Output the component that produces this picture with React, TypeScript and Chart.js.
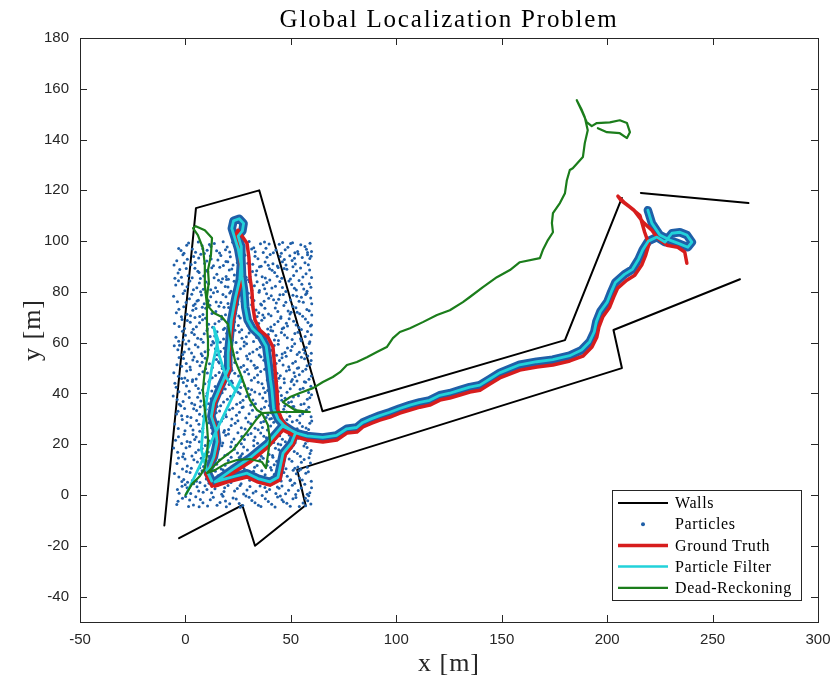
import { useEffect, useRef } from "react";
import { Chart, registerables } from "chart.js";

Chart.register(...registerables);

type Pt = [number, number];

const X_TICKS = [-50, 0, 50, 100, 150, 200, 250, 300];
const Y_TICKS = [-40, -20, 0, 20, 40, 60, 80, 100, 120, 140, 160, 180];

// Map walls (m)
const wallOuter: Pt[] = [[-10, -12], [5, 113], [35, 120], [65, 33], [180, 61], [207, 117]];
const wallEnd: Pt[] = [[216, 119], [267, 115]];
const wallInner: Pt[] = [[-3, -17], [27, -4], [33, -20], [57, -4], [53, 10], [207, 50], [203, 65], [263, 85]];

// Initial particle set spread over the first room
const particles: Pt[] = [
  [-3.2,97.1],[1.5,99.3],[4.8,95.6],[7.9,98.2],[10.3,96.4],[13.7,99.1],[16.2,95.3],[19.8,97.7],[22.4,99.6],[26.9,96.0],[29.3,98.5],[33.1,95.8],[35.6,99.0],[38.2,97.2],[41.7,95.4],[44.5,98.8],[47.3,96.6],[50.8,99.4],[53.2,95.9],[56.7,97.9],[59.1,99.2],[-0.7,95.2],[12.1,97.9],[31.4,96.9],[46.1,99.5],[57.9,95.5],
  [-4.1,92.3],[-1.2,94.6],[2.7,90.8],[6.3,93.4],[9.1,91.2],[11.8,94.1],[15.4,92.6],[18.0,90.4],[21.3,93.8],[24.6,91.5],[28.2,94.4],[31.9,90.9],[34.4,93.1],[37.8,91.8],[40.2,94.7],[43.6,90.2],[46.9,92.8],[49.5,94.2],[52.1,91.0],[55.4,93.6],[58.3,90.7],[3.9,93.9],[20.1,91.9],[39.3,90.5],[51.7,93.3],[59.6,94.0],
  [-3.5,87.4],[0.4,89.2],[3.2,85.6],[5.9,88.1],[8.7,86.3],[12.5,89.5],[14.9,87.0],[17.6,85.2],[20.8,88.6],[23.2,86.7],[27.5,89.8],[30.7,85.9],[33.8,88.3],[36.4,86.0],[39.9,89.1],[42.3,87.6],[45.7,85.4],[48.1,88.9],[51.3,86.5],[54.6,89.4],[57.2,87.2],[-1.9,85.8],[10.6,87.9],[25.3,85.1],[44.0,89.6],[59.8,85.7],
  [-4.6,82.7],[-0.3,80.5],[2.1,84.3],[5.4,81.6],[9.8,83.9],[12.0,80.9],[15.7,84.6],[18.9,82.1],[21.6,80.3],[24.1,83.4],[26.6,81.2],[29.9,84.8],[32.7,82.4],[35.1,80.6],[38.6,83.7],[41.0,81.5],[44.8,84.1],[47.6,80.2],[50.4,82.9],[53.9,84.5],[56.1,81.1],[58.8,83.2],[7.2,80.1],[19.5,84.9],[36.9,82.8],[52.6,80.8],
  [-3.8,76.1],[-1.1,79.4],[1.9,77.3],[4.6,75.2],[7.6,78.8],[10.9,76.5],[13.3,79.7],[16.8,75.8],[19.2,78.1],[22.7,76.9],[25.8,79.2],[28.6,75.4],[31.2,77.8],[34.9,79.9],[37.3,76.3],[40.7,78.5],[43.1,75.6],[46.4,79.0],[49.8,76.8],[52.8,78.3],[55.9,75.9],[59.4,77.6],[6.1,76.7],[21.0,79.6],[44.2,77.1],[57.5,79.5],
  [-4.3,71.8],[-0.8,74.2],[2.4,70.6],[5.0,73.5],[8.3,71.1],[11.6,74.7],[14.4,72.3],[17.1,70.4],[20.5,73.9],[23.8,71.6],[27.0,74.5],[30.1,70.8],[33.5,72.9],[36.1,74.8],[39.4,71.3],[42.6,73.7],[45.3,70.2],[48.7,72.5],[51.0,74.3],[54.2,71.4],[57.6,73.1],[59.9,70.9],[3.5,72.8],[18.3,74.0],[34.0,70.3],[50.1,72.0],
  [-3.0,66.4],[0.9,68.7],[3.7,65.3],[6.7,67.9],[9.5,69.6],[12.9,66.1],[15.9,68.4],[18.6,65.7],[21.9,69.2],[25.1,66.8],[28.4,68.9],[31.6,65.4],[34.7,67.6],[37.4,69.8],[40.5,66.2],[43.9,68.3],[46.6,65.9],[49.2,69.4],[52.5,67.0],[55.0,65.2],[58.1,68.0],[-1.6,69.1],[11.0,67.3],[26.7,65.1],[47.9,67.7],[59.3,66.6],
  [-4.5,62.1],[-1.4,64.5],[1.6,60.7],[4.2,63.2],[7.4,61.4],[10.2,64.8],[13.9,62.6],[16.5,60.2],[19.6,63.7],[22.2,61.0],[25.6,64.2],[28.9,62.3],[32.3,60.5],[35.5,63.9],[38.0,61.7],[41.4,64.6],[44.1,60.9],[47.0,63.0],[50.6,61.3],[53.4,64.1],[56.8,62.4],[59.0,60.4],[8.9,63.5],[24.0,60.1],[42.9,62.8],[54.9,60.8],
  [-3.6,57.2],[0.2,59.5],[2.9,55.9],[6.0,58.3],[9.3,56.4],[12.3,59.1],[15.1,55.3],[18.4,57.8],[21.2,59.8],[24.5,56.1],[27.8,58.7],[30.4,55.6],[33.9,57.4],[36.8,59.3],[39.6,56.7],[42.1,58.9],[45.9,55.5],[48.4,57.9],[51.8,59.6],[54.0,56.2],[57.3,58.1],[59.7,55.8],[-0.5,56.3],[14.2,57.6],[35.0,55.2],[50.0,56.9],
  [-4.0,51.3],[-0.9,53.8],[2.2,50.4],[5.6,52.6],[8.0,54.9],[11.4,51.7],[14.7,53.4],[17.3,50.8],[20.0,54.1],[23.4,52.2],[26.3,50.3],[29.5,53.6],[32.6,51.1],[35.8,54.5],[38.9,52.9],[41.2,50.6],[44.6,53.0],[47.8,54.7],[50.9,51.9],[53.7,50.1],[56.5,53.7],[59.2,51.5],[4.1,54.4],[16.1,52.0],[46.3,51.2],[58.0,54.8],
  [-3.3,46.8],[0.6,48.9],[3.4,45.4],[6.5,47.6],[9.6,49.7],[12.7,46.2],[16.0,48.3],[18.8,45.7],[22.0,49.1],[25.2,46.9],[28.1,48.6],[31.3,45.2],[34.2,47.3],[37.6,49.5],[40.1,46.4],[43.4,48.0],[46.8,45.8],[49.3,49.3],[52.0,46.7],[55.6,48.8],[58.6,45.6],[-1.8,45.9],[10.4,48.1],[30.0,47.7],[44.3,46.0],[53.1,49.9],
  [-4.4,42.5],[-1.0,44.3],[1.8,40.9],[4.9,43.1],[8.1,41.4],[11.1,44.6],[14.1,42.7],[17.4,40.3],[20.7,43.5],[23.6,41.6],[26.8,44.8],[29.7,42.0],[32.9,40.6],[36.3,43.8],[39.0,41.2],[42.0,44.0],[45.1,42.3],[48.2,40.5],[51.5,43.4],[54.4,41.7],[57.0,44.4],[59.5,42.8],[6.8,40.2],[21.8,44.9],[37.0,42.2],[50.2,44.7],
  [-3.9,37.6],[0.0,39.8],[3.0,36.2],[5.8,38.5],[8.8,35.4],[12.2,37.9],[15.3,39.4],[18.1,36.6],[21.4,38.9],[24.3,35.8],[27.3,37.3],[30.6,39.6],[33.2,36.0],[36.7,38.2],[39.8,35.3],[42.8,37.5],[45.5,39.2],[48.9,36.4],[51.2,38.6],[54.8,35.7],[57.8,37.7],[59.8,39.5],[-2.2,35.2],[10.0,39.0],[25.9,39.9],[47.1,35.1],
  [-4.2,31.9],[-0.4,34.1],[2.6,30.5],[5.3,33.3],[8.5,31.0],[11.7,34.4],[14.6,32.4],[17.8,30.2],[20.9,33.6],[24.2,31.4],[27.4,34.7],[30.2,32.0],[33.6,30.7],[36.0,33.9],[39.1,31.6],[42.4,34.3],[45.0,30.4],[48.0,32.7],[51.4,34.9],[54.3,31.2],[57.4,33.5],[59.6,30.8],[7.0,34.8],[19.0,31.8],[40.8,30.1],[52.7,33.0],
  [-3.4,26.2],[0.7,28.5],[3.6,25.6],[6.4,27.9],[9.7,29.6],[12.4,26.5],[15.6,28.8],[18.5,25.4],[21.7,27.4],[24.9,29.3],[28.3,26.0],[31.0,28.1],[34.5,25.7],[37.1,29.0],[40.4,27.2],[43.2,25.3],[46.7,28.4],[49.6,26.3],[52.9,29.5],[55.5,27.0],[58.4,25.8],[-1.5,29.8],[13.5,25.1],[36.5,26.6],[50.7,28.9],[59.9,29.2],
  [-4.7,21.6],[-0.6,23.9],[2.3,20.8],[5.1,22.9],[8.2,24.6],[11.3,21.3],[14.3,23.2],[17.7,20.5],[20.4,24.0],[23.0,22.1],[26.5,20.2],[29.6,23.7],[32.4,21.5],[35.7,24.4],[38.4,22.6],[41.9,20.7],[44.7,23.4],[47.4,21.0],[50.3,24.8],[53.6,22.4],[56.9,20.3],[59.4,23.8],[4.4,21.9],[18.2,24.7],[33.0,22.9],[55.2,24.3],
  [-3.7,16.9],[0.3,18.6],[3.1,15.4],[6.2,17.7],[9.4,19.5],[12.6,16.2],[15.8,18.2],[18.7,15.6],[21.5,19.0],[24.7,16.6],[27.6,18.9],[30.8,15.2],[33.7,17.4],[36.6,19.7],[39.7,16.0],[42.7,18.4],[45.6,15.8],[48.6,19.2],[51.6,17.1],[54.5,15.3],[57.7,18.7],[59.1,16.4],[-1.3,15.1],[10.8,17.0],[27.0,16.3],[45.2,19.8],
  [-4.0,12.4],[-0.2,14.2],[2.8,10.6],[5.7,13.0],[8.6,11.2],[11.5,14.7],[14.8,12.1],[17.0,10.3],[20.3,13.6],[23.5,11.5],[26.2,14.4],[29.4,12.7],[32.8,10.9],[35.3,13.8],[38.7,11.7],[41.5,14.9],[44.9,12.2],[47.7,10.4],[50.5,13.3],[53.3,11.0],[56.3,14.0],[59.3,12.6],[7.5,14.5],[22.1,10.1],[39.2,13.2],[54.7,10.2],
  [-3.1,7.1],[0.5,9.3],[3.3,5.7],[6.6,8.4],[9.9,6.3],[12.8,9.7],[15.5,7.6],[18.3,5.2],[21.1,8.8],[24.4,6.5],[27.9,9.0],[30.5,5.8],[33.4,7.9],[36.2,9.6],[39.5,6.1],[42.2,8.2],[45.4,5.5],[48.3,7.4],[51.1,9.8],[54.1,6.7],[57.1,8.6],[59.7,5.4],[-1.7,5.3],[11.9,7.8],[30.0,8.1],[49.9,6.0],
  [-3.8,2.2],[-0.1,4.1],[2.5,0.6],[5.5,3.3],[8.4,1.1],[11.2,4.6],[14.0,2.5],[17.2,0.3],[20.2,3.8],[23.3,1.6],[26.4,4.4],[29.2,2.0],[32.1,0.8],[35.4,3.6],[38.5,1.3],[41.8,4.8],[44.4,2.7],[47.5,0.5],[50.7,3.9],[53.5,1.8],[56.6,4.3],[59.0,0.9],[6.9,4.9],[18.6,2.9],[37.7,3.0],[52.3,0.2],
  [-3.5,-2.4],[0.1,-0.6],[3.8,-3.9],[7.1,-1.8],[10.5,-4.3],[13.2,-0.9],[16.4,-2.9],[19.4,-4.6],[22.6,-1.2],[25.5,-3.3],[28.7,-0.4],[31.5,-2.1],[34.6,-4.0],[37.9,-1.5],[40.9,-3.6],[43.7,-0.8],[46.5,-2.6],[49.7,-4.4],[52.4,-1.0],[55.8,-3.1],[58.5,-0.3],[2.0,-2.0],[26.0,-4.8],[45.8,-1.9],[57.0,-4.2],
  [-2.1,96.3],[0.6,98.4],[3.3,96.9],[6.1,99.7],[9.0,95.1],[11.4,98.7],[14.8,96.2],[17.9,99.8],[21.0,95.7],[24.3,98.1],[27.7,95.0],[30.2,99.9],[32.4,97.4],[36.9,95.5],[39.7,98.9],[42.9,96.5],[45.5,95.2],[48.6,97.6],[51.9,95.4],[54.7,98.6],[57.4,96.8],[59.8,95.9],[8.2,97.0],[19.0,96.6],[37.5,99.7],[49.9,99.1],
  [-5.4,90.6],[0.9,92.9],[4.6,91.6],[7.3,94.8],[10.1,92.2],[13.3,90.3],[16.8,94.3],[19.2,92.0],[22.6,90.6],[25.9,93.5],[29.6,91.3],[33.0,94.0],[35.9,90.1],[38.7,93.7],[41.5,91.1],[44.9,93.9],[47.7,90.6],[50.6,92.4],[53.5,94.9],[56.7,91.5],[59.0,93.2],[-0.6,91.4],[12.2,93.0],[27.0,90.2],[46.0,91.9],[57.9,94.6],
  [-2.7,88.8],[1.3,86.4],[4.5,89.3],[7.1,85.3],[10.0,88.4],[13.6,85.6],[16.3,89.7],[19.3,86.1],[22.0,89.0],[25.0,87.5],[28.8,85.8],[31.8,88.0],[35.1,89.9],[37.9,85.5],[41.1,88.5],[43.5,86.2],[46.8,89.2],[49.8,85.1],[52.7,88.2],[55.7,85.9],[58.9,88.6],[-5.0,85.4],[6.5,87.6],[20.4,85.0],[33.4,86.7],[51.0,89.9],
  [-3.3,84.4],[0.8,82.0],[3.8,80.9],[6.6,83.5],[8.5,81.0],[11.0,83.2],[14.3,81.6],[17.0,83.8],[20.2,81.9],[23.1,84.2],[25.5,80.4],[28.4,82.7],[31.5,80.7],[34.0,84.0],[37.6,81.2],[40.0,84.7],[42.7,82.2],[46.0,81.7],[49.1,84.3],[51.7,81.4],[55.2,83.0],[57.7,80.3],[-1.5,83.1],[15.2,80.2],[30.3,84.0],[59.5,81.8],
  [-5.6,78.3],[0.3,75.8],[3.0,79.1],[5.5,76.4],[8.9,75.3],[12.0,78.1],[14.6,76.0],[17.8,79.0],[20.2,75.4],[23.7,78.6],[26.9,76.2],[29.8,79.5],[32.5,76.6],[35.7,75.2],[38.5,79.3],[41.8,76.9],[44.8,78.9],[47.6,75.9],[51.0,78.7],[53.9,76.3],[57.0,79.0],[59.9,75.3],[9.8,79.8],[24.8,75.1],[39.5,77.5],[55.0,77.9],
  [-3.1,73.2],[0.7,71.2],[3.8,74.6],[6.8,70.3],[9.6,73.6],[12.6,71.5],[15.9,74.4],[19.0,71.0],[21.8,72.8],[25.3,70.5],[28.1,73.1],[31.4,74.9],[34.8,71.8],[37.7,73.6],[40.6,70.6],[43.8,72.3],[46.7,74.6],[49.6,71.3],[52.4,73.8],[55.6,70.4],[58.7,72.6],[-1.9,70.2],[8.0,74.0],[22.9,74.5],[36.7,70.9],[53.0,72.0],
  [-5.2,67.6],[-0.4,65.6],[2.3,68.1],[5.2,66.3],[8.1,69.0],[10.4,65.5],[14.0,67.5],[17.2,69.3],[20.3,66.5],[23.3,68.2],[26.0,69.7],[29.6,66.7],[33.1,65.9],[36.2,68.8],[39.0,65.4],[42.2,67.2],[45.2,69.6],[48.4,66.6],[51.3,68.4],[53.8,66.0],[56.9,69.3],[59.8,67.0],[4.5,69.9],[18.0,65.2],[30.9,68.9],[45.9,65.5],
  [-3.2,60.6],[0.0,62.9],[3.0,64.0],[5.8,61.8],[8.4,60.2],[11.7,62.4],[15.0,64.3],[18.1,61.5],[21.0,63.0],[23.5,64.9],[26.8,61.8],[30.2,63.8],[33.8,62.0],[36.6,60.9],[39.3,63.2],[42.2,61.1],[45.5,64.0],[48.3,61.9],[51.9,63.6],[54.6,61.6],[57.9,64.4],[-1.0,61.2],[13.0,60.5],[27.9,60.3],[40.5,64.8],[59.7,63.1],
  [-5.3,58.8],[-1.3,55.4],[1.7,57.5],[4.7,59.2],[7.5,55.6],[10.8,57.2],[13.4,59.9],[16.6,56.5],[19.7,58.4],[22.8,55.2],[26.1,57.6],[29.0,59.6],[32.0,56.3],[35.4,58.2],[38.1,55.8],[41.0,57.0],[44.0,59.4],[47.2,56.1],[50.6,58.5],[53.0,55.4],[55.9,57.3],[58.7,59.7],[-2.8,59.0],[20.9,56.9],[43.2,55.1],[56.6,55.9],
  [-3.0,54.2],[0.4,51.8],[3.5,53.2],[6.9,50.9],[9.4,53.9],[12.8,50.2],[15.7,52.5],[18.6,54.6],[21.6,51.3],[24.9,53.7],[27.6,51.0],[31.1,52.8],[34.1,50.2],[37.2,53.1],[40.0,54.9],[43.0,51.8],[45.8,54.1],[49.0,50.5],[52.2,52.6],[55.0,54.3],[57.7,50.9],[-1.8,50.7],[7.9,52.3],[29.0,54.8],[39.5,51.4],[59.6,53.0],
  [-5.5,48.2],[-0.3,46.1],[2.4,49.3],[5.1,45.7],[8.3,48.6],[11.6,45.4],[14.3,47.1],[17.5,49.8],[20.3,46.4],[23.4,48.0],[26.6,45.6],[29.3,49.4],[32.7,46.2],[35.7,48.7],[38.8,45.3],[41.7,49.2],[45.0,47.0],[47.9,48.9],[50.7,45.5],[54.0,47.4],[57.1,49.5],[59.7,46.9],[1.0,45.1],[18.0,47.9],[33.3,49.9],[51.5,48.2],
  [-3.1,40.7],[0.5,42.9],[3.3,44.7],[6.1,42.0],[9.2,43.8],[12.5,41.0],[15.8,43.4],[18.9,41.8],[22.3,44.1],[25.0,40.5],[28.0,43.0],[31.4,41.5],[34.5,44.4],[37.8,40.4],[40.8,42.6],[44.0,40.8],[46.9,44.2],[49.7,41.9],[52.9,44.9],[55.8,42.1],[58.4,40.4],[-5.0,44.0],[10.3,40.1],[26.2,42.4],[43.3,44.8],[56.4,44.6],
  [-5.8,39.0],[-1.1,36.8],[1.8,38.4],[4.4,35.6],[7.3,37.0],[10.9,36.0],[13.7,38.6],[16.7,35.2],[19.9,37.7],[22.8,39.4],[26.0,36.4],[28.9,38.8],[32.0,37.4],[35.2,39.8],[38.2,36.9],[41.3,39.0],[44.1,35.9],[47.3,38.1],[50.3,36.7],[53.6,39.1],[56.3,36.0],[59.0,38.3],[-2.9,35.8],[12.0,35.3],[31.0,35.5],[45.7,37.3],
  [-3.5,33.0],[0.9,30.9],[3.9,34.0],[6.7,31.8],[9.8,33.8],[12.9,30.5],[16.2,33.1],[19.4,30.8],[22.4,34.2],[25.6,32.6],[28.6,30.3],[31.8,33.4],[34.9,31.3],[37.5,34.6],[40.6,32.4],[43.6,30.9],[46.6,33.8],[49.5,31.0],[52.1,33.6],[55.6,32.0],[58.5,34.6],[-1.8,31.2],[15.0,34.9],[26.9,34.5],[38.3,30.5],[50.8,34.8],
  [-5.1,28.0],[-0.2,25.3],[2.5,27.3],[5.3,29.4],[8.2,26.2],[11.1,28.5],[14.4,26.9],[17.1,29.2],[20.5,25.8],[23.6,28.3],[26.5,26.5],[29.8,28.8],[33.0,26.3],[35.8,28.6],[38.9,25.6],[41.9,28.7],[45.0,26.9],[48.1,29.7],[51.3,25.4],[54.2,28.4],[57.2,26.4],[59.0,28.3],[6.8,25.1],[22.0,29.9],[40.0,29.9],[53.0,26.1],
  [-3.3,23.0],[0.8,21.1],[3.6,23.8],[6.6,21.0],[9.6,22.8],[12.7,24.2],[15.9,21.7],[19.1,23.5],[21.9,20.9],[24.9,24.5],[28.0,21.9],[31.1,24.2],[34.2,20.4],[37.2,23.2],[40.3,21.6],[43.3,24.9],[46.0,22.0],[49.2,23.6],[52.0,20.6],[55.0,23.0],[58.0,21.3],[-1.8,20.3],[10.9,20.2],[26.7,23.1],[44.0,20.1],[57.4,24.6],
  [-5.6,18.5],[-0.9,16.3],[2.0,19.2],[4.9,16.8],[7.9,18.3],[11.2,15.3],[14.1,17.4],[17.3,19.4],[20.0,16.1],[23.2,18.0],[26.3,15.5],[29.4,17.7],[32.4,19.4],[35.2,16.4],[38.4,18.7],[41.3,15.6],[44.3,17.8],[47.1,15.2],[50.1,18.5],[53.1,16.4],[56.2,19.3],[59.6,17.5],[8.8,15.9],[24.0,19.6],[36.0,15.3],[48.1,17.2],
  [-3.3,14.6],[0.9,11.4],[4.0,13.9],[6.8,10.7],[9.9,13.5],[13.1,11.0],[16.1,13.8],[18.8,11.7],[21.7,14.9],[24.8,12.6],[27.8,10.5],[30.8,13.8],[34.0,11.6],[36.9,14.5],[40.4,10.8],[43.3,13.3],[46.3,11.4],[49.2,14.2],[51.9,10.6],[55.0,12.9],[57.8,10.9],[-1.4,10.3],[12.0,13.2],[25.5,14.8],[42.1,11.9],[58.6,14.7],
  [-5.2,8.5],[-0.8,6.1],[2.2,8.9],[5.2,5.4],[7.9,9.6],[10.7,7.2],[14.2,9.4],[16.9,6.7],[19.8,8.1],[23.0,5.8],[26.0,8.4],[29.1,6.9],[32.3,9.4],[34.9,5.3],[37.8,8.0],[40.8,9.9],[43.8,6.6],[46.7,8.9],[49.6,5.7],[52.6,8.4],[55.4,5.9],[58.3,9.2],[1.0,5.0],[17.9,9.9],[38.9,5.0],[53.8,9.6],
  [-3.0,0.7],[0.8,2.9],[3.9,4.4],[6.3,1.6],[9.3,3.7],[12.4,0.9],[15.4,3.9],[18.3,1.4],[21.6,4.9],[24.6,2.6],[27.6,0.4],[30.6,3.4],[33.4,1.5],[36.7,4.7],[39.9,2.2],[42.9,0.6],[45.8,3.6],[48.9,1.9],[51.8,4.6],[54.9,2.8],[57.8,0.3],[-1.6,3.5],[10.2,2.2],[25.9,3.8],[43.6,3.2],[59.8,2.9],
  [-4.1,-3.7],[-1.4,-1.3],[1.5,-4.5],[4.9,-0.7],[8.3,-3.0],[11.8,-1.9],[15.0,-4.0],[17.8,-0.5],[21.0,-3.4],[24.1,-1.6],[27.2,-4.1],[30.2,-0.9],[33.0,-3.0],[36.4,-0.2],[39.3,-2.5],[42.5,-4.7],[45.0,-0.4],[48.1,-3.2],[51.0,-1.5],[54.0,-4.5],[56.9,-1.3],[59.5,-3.5],[6.5,-4.6],[19.0,-2.3],[35.8,-4.5],[58.0,-2.2],
];

// True robot path (m)
const groundTruth: Pt[] = [
  [12.6,3.5],[9.7,8.3],[14.0,15.0],[15.4,20.5],[14.9,25.6],[12.6,30.7],[14.0,36.2],[17.3,42.5],[21.1,49.2],[20.6,55.9],
  [22.5,68.9],[24.4,78.0],[26.8,84.6],[25.8,94.5],[23.9,102.4],[24.9,104.3],[29.2,99.2],[30.1,93.7],[30.6,85.8],[31.5,80.7],
  [32.0,74.0],[33.0,68.9],[35.3,65.0],[39.1,62.2],[41.5,58.3],[42.4,50.4],[42.9,45.3],[43.4,41.3],[43.9,33.5],[45.8,29.5],
  [48.1,26.8],[52.9,23.6],[51.0,19.7],[47.2,15.7],[45.8,10.6],[44.8,5.9],[40.1,3.9],[34.4,5.1],[29.2,7.1],[23.5,5.9],
  [19.7,5.1],[14.0,3.5],[22.5,8.7],[30.6,13.0],[39.1,18.9],[46.2,25.6],[52.9,22.8],[57.6,21.7],[65.2,20.9],[71.8,21.7],
  [76.6,24.4],[81.3,24.8],[84.2,26.8],[88.4,28.3],[92.2,29.5],[97.0,30.7],[101.7,32.3],[106.5,33.5],[111.2,34.6],[115.9,35.4],
  [120.7,37.4],[125.4,38.2],[130.2,39.4],[134.9,40.6],[139.7,41.3],[144.4,43.7],[149.1,46.1],[158.6,49.2],[166.7,50.4],[174.3,51.2],
  [182.3,52.8],[188.5,54.7],[192.8,58.3],[195.1,62.2],[196.1,66.1],[197.9,70.1],[201.2,74.0],[203.1,78.0],[205.0,81.5],[209.3,84.6],
  [213.1,86.6],[216.4,90.6],[218.3,94.5],[219.8,98.8],[217.8,103.5],[215.5,110.2],[210.8,113.4],[206.5,116.1],[205.1,117.7],[207.9,115.4],
  [212.7,112.2],[217.0,107.5],[221.2,104.3],[224.0,101.2],[228.3,98.4],[233.5,97.6],[236.8,95.7],[237.8,91.3],
];

// Filter estimate before the particle cloud converges (m)
const filterSearch: Pt[] = [
  [0.5,0.5],[26.8,46.5],[24.0,41.0],[19.5,46.0],[16.0,55.0],[13.5,66.0],[15.5,61.0],[12.5,50.0],[10.5,40.0],[8.5,28.0],
  [7.5,18.0],[10.0,10.0],[12.5,5.5],
];

// Filter estimate after convergence (m)
const filterTrack: Pt[] = [
  [12.5,5.5],[10.5,9.0],[13.5,15.0],[15.0,21.0],[14.3,26.0],[12.3,31.0],[13.5,36.5],[16.8,43.0],[20.5,50.0],[20.3,56.0],
  [21.8,69.0],[23.8,78.0],[25.8,85.0],[26.3,91.0],[25.0,97.0],[23.5,101.0],[22.0,105.0],[22.8,108.0],[25.5,108.8],[27.6,107.0],
  [27.0,104.0],[25.0,102.0],[26.4,98.0],[26.5,93.5],[26.9,86.0],[27.8,80.7],[28.4,74.0],[29.5,69.0],[31.8,65.6],[35.6,62.6],
  [38.3,58.6],[39.6,50.6],[40.3,45.4],[41.0,41.4],[41.8,34.0],[43.9,30.0],[46.6,27.5],[52.2,24.4],[50.3,20.5],[46.3,16.5],
  [44.9,11.0],[43.9,7.0],[40.1,5.2],[34.4,6.5],[29.2,8.6],[23.5,7.4],[19.7,6.6],[14.0,5.2],[22.4,10.1],[30.5,14.6],
  [39.0,20.4],[46.0,27.2],[52.8,24.4],[57.5,23.3],[65.1,22.7],[71.7,23.5],[76.5,26.1],[81.2,26.6],[84.1,28.6],[88.3,30.1],
  [92.1,31.3],[96.9,32.6],[101.6,34.1],[106.4,35.4],[111.1,36.5],[115.8,37.3],[120.6,39.3],[125.3,40.1],[130.1,41.3],[134.8,42.5],
  [139.6,43.3],[144.3,45.7],[149.0,48.1],[158.5,51.3],[166.6,52.5],[174.2,53.3],[182.2,54.9],[187.9,57.1],[191.7,60.4],[193.9,64.3],
  [194.9,68.3],[196.8,72.3],[200.1,76.1],[202.0,80.1],[203.9,83.7],[208.2,86.9],[212.0,88.9],[214.9,92.9],[216.9,96.6],[219.5,100.0],
  [223.6,101.6],[227.4,99.6],[230.7,103.1],[234.5,103.5],[237.8,102.4],[240.2,99.6],[238.3,97.6],[233.5,99.2],[229.7,100.4],[225.0,102.4],
  [221.2,107.1],[219.3,112.2],
];

// Odometry-only estimate (m)
const deadReckoning: Pt[] = [
  [0.0,0.0],[3.1,4.3],[6.9,7.5],[9.2,10.6],[10.2,15.7],[10.7,21.7],[10.2,27.6],[9.2,33.5],[8.3,41.3],[9.2,49.2],
  [10.7,55.1],[10.7,61.0],[10.2,66.9],[10.2,74.8],[9.2,82.7],[9.2,90.6],[8.3,97.2],[5.9,102.4],[3.6,105.1],[4.9,105.9],
  [9.2,104.3],[12.6,101.2],[12.1,94.5],[10.7,88.6],[11.1,83.9],[10.2,78.0],[11.1,74.0],[13.5,71.7],[17.3,70.1],[20.2,67.3],
  [21.1,63.0],[22.1,58.3],[23.5,53.1],[25.8,48.4],[27.7,44.1],[30.6,37.4],[33.9,33.5],[36.3,32.3],[39.1,27.6],[40.1,21.7],
  [39.1,15.7],[38.2,10.6],[36.3,13.0],[30.6,14.2],[24.4,13.8],[18.7,12.2],[14.0,9.8],[10.2,8.7],[16.4,13.8],[22.5,17.7],
  [29.2,24.8],[33.4,29.5],[36.3,32.3],[44.8,32.7],[59.0,32.7],[51.9,33.5],[46.2,36.6],[49.6,38.6],[54.3,40.2],[60.5,42.1],
  [65.2,44.5],[69.9,46.5],[73.3,48.4],[76.6,51.2],[81.3,52.4],[86.1,54.3],[90.8,56.3],[95.5,58.3],[98.4,61.8],[101.7,64.2],
  [106.5,65.7],[112.6,68.1],[119.3,70.9],[125.4,72.8],[131.6,76.0],[134.9,78.0],[141.1,81.9],[147.7,85.8],[153.9,88.6],[158.6,91.7],
  [168.1,93.3],[169.5,96.5],[171.9,100.4],[174.3,103.5],[173.8,107.1],[174.3,111.0],[177.6,115.0],[180.0,118.9],[180.9,124.0],[182.3,128.0],
  [183.7,128.7],[188.5,133.1],[189.4,138.6],[190.8,143.7],[189.4,148.8],[188.0,151.6],[185.6,155.5],[188.0,151.2],[190.3,146.9],[192.7,145.3],
  [195.1,146.5],[201.3,146.8],[206.0,147.6],[209.4,146.5],[210.8,142.9],[209.4,140.6],[206.0,142.5],[199.9,142.9],[195.6,144.5],
];

const COLORS = {
  wall: "#000000",
  particle: "#1f5fa8",
  truth: "#d71d1d",
  filter: "#22d2da",
  dead: "#1b7d1b",
  axis: "#262626",
};

const LEGEND = [
  { label: "Walls", kind: "line", color: COLORS.wall, width: 2 },
  { label: "Particles", kind: "dot", color: COLORS.particle, width: 2 },
  { label: "Ground Truth", kind: "line", color: COLORS.truth, width: 3.5 },
  { label: "Particle Filter", kind: "line", color: COLORS.filter, width: 2.5 },
  { label: "Dead-Reckoning", kind: "line", color: COLORS.dead, width: 2.2 },
];

const toXY = (pts: Pt[]) => pts.map(([x, y]) => ({ x, y }));

const lineSet = (label: string, pts: Pt[], color: string, width: number, order: number) => ({
  label,
  data: toXY(pts),
  showLine: true,
  borderColor: color,
  backgroundColor: color,
  borderWidth: width,
  pointRadius: 0,
  borderJoinStyle: "round" as const,
  borderCapStyle: "round" as const,
  tension: 0,
  order,
});

const figurePlugin = {
  id: "figureDecor",
  afterDatasetsDraw(chart: any) {
    const { ctx, chartArea: a, scales } = chart;
    const xs = scales.x;
    const ys = scales.y;
    ctx.save();
    ctx.strokeStyle = COLORS.axis;
    ctx.lineWidth = 1;
    const tl = 7;
    ctx.beginPath();
    X_TICKS.forEach((v) => {
      const px = Math.round(xs.getPixelForValue(v)) + 0.5;
      ctx.moveTo(px, a.bottom);
      ctx.lineTo(px, a.bottom - tl);
      ctx.moveTo(px, a.top);
      ctx.lineTo(px, a.top + tl);
    });
    Y_TICKS.forEach((v) => {
      const py = Math.round(ys.getPixelForValue(v)) + 0.5;
      ctx.moveTo(a.left, py);
      ctx.lineTo(a.left + tl, py);
      ctx.moveTo(a.right, py);
      ctx.lineTo(a.right - tl, py);
    });
    ctx.stroke();
    ctx.strokeRect(Math.round(a.left) + 0.5, Math.round(a.top) + 0.5, Math.round(a.right - a.left), Math.round(a.bottom - a.top));
    ctx.restore();
  },
  afterDraw(chart: any) {
    const { ctx, chartArea: a } = chart;
    const cx = (a.left + a.right) / 2;
    ctx.save();
    ctx.fillStyle = "#000";
    // title
    ctx.font = '25px "Liberation Serif"';
    (ctx as any).letterSpacing = "1.8px";
    ctx.textAlign = "center";
    ctx.textBaseline = "alphabetic";
    ctx.fillText("Global Localization Problem", cx, 27);
    // axis labels
    ctx.font = '26px "Liberation Serif"';
    (ctx as any).letterSpacing = "1px";
    ctx.fillStyle = COLORS.axis;
    ctx.fillText("x [m]", cx, 671);
    ctx.save();
    ctx.translate(40, (a.top + a.bottom) / 2);
    ctx.rotate(-Math.PI / 2);
    ctx.fillText("y [m]", 0, 0);
    ctx.restore();

    // legend box
    const bx = 612.5, by = 490.5, bw = 189, bh = 110;
    ctx.fillStyle = "#fff";
    ctx.fillRect(bx, by, bw, bh);
    ctx.strokeStyle = COLORS.axis;
    ctx.lineWidth = 1;
    ctx.strokeRect(bx, by, bw, bh);
    ctx.font = '16px "Liberation Serif"';
    (ctx as any).letterSpacing = "0.6px";
    ctx.textAlign = "left";
    ctx.textBaseline = "middle";
    LEGEND.forEach((item, i) => {
      const y = 503 + i * 21.2;
      if (item.kind === "line") {
        ctx.strokeStyle = item.color;
        ctx.lineWidth = item.width;
        ctx.beginPath();
        ctx.moveTo(618, y);
        ctx.lineTo(668, y);
        ctx.stroke();
      } else {
        ctx.fillStyle = item.color;
        ctx.beginPath();
        ctx.arc(643, y, 2, 0, Math.PI * 2);
        ctx.fill();
      }
      ctx.fillStyle = "#000";
      ctx.fillText(item.label, 675, y + 1);
    });
    ctx.restore();
  },
};

export default function App() {
  const ref = useRef<HTMLCanvasElement | null>(null);

  useEffect(() => {
    if (!ref.current) return;
    const tickFont = { family: '"Liberation Sans", Arial, sans-serif', size: 15 };
    const chart = new Chart(ref.current, {
      type: "scatter",
      data: {
        datasets: [
          lineSet("Walls", wallOuter, COLORS.wall, 2, 10),
          lineSet("Walls", wallEnd, COLORS.wall, 2, 10),
          lineSet("Walls", wallInner, COLORS.wall, 2, 10),
          {
            label: "Particles",
            data: toXY(particles),
            showLine: false,
            pointRadius: 1.5,
            pointBorderWidth: 0,
            pointBackgroundColor: COLORS.particle,
            backgroundColor: COLORS.particle,
            order: 9,
          },
          lineSet("Particles", filterTrack, COLORS.particle, 8.5, 8),
          lineSet("Ground Truth", groundTruth, COLORS.truth, 3.5, 3),
          lineSet("Particle Filter", [...filterSearch, ...filterTrack], COLORS.filter, 2.8, 2),
          lineSet("Dead-Reckoning", deadReckoning, COLORS.dead, 2.2, 1),
        ],
      },
      options: {
        animation: false,
        responsive: false,
        devicePixelRatio: 1,
        layout: { padding: { left: 0, top: 38, right: 15, bottom: 0 } },
        plugins: { legend: { display: false }, tooltip: { enabled: false }, title: { display: false } },
        scales: {
          x: {
            type: "linear",
            min: -50,
            max: 300,
            afterBuildTicks: (s: any) => { s.ticks = X_TICKS.map((value) => ({ value })); },
            afterFit: (s: any) => { s.height = 60; s.paddingLeft = 0; s.paddingRight = 0; },
            grid: { display: false, drawTicks: false },
            border: { display: false },
            ticks: { font: tickFont, color: COLORS.axis, padding: 9, maxRotation: 0, autoSkip: false },
          },
          y: {
            type: "linear",
            min: -50,
            max: 180,
            afterBuildTicks: (s: any) => { s.ticks = Y_TICKS.map((value) => ({ value })); },
            afterFit: (s: any) => { s.width = 80; s.paddingTop = 0; s.paddingBottom = 0; },
            grid: { display: false, drawTicks: false },
            border: { display: false },
            ticks: { font: tickFont, color: COLORS.axis, padding: 11, autoSkip: false },
          },
        },
      },
      plugins: [figurePlugin],
    });
    return () => chart.destroy();
  }, []);

  return (
    <div style={{ position: "fixed", left: 0, top: 0, width: 833, height: 682, background: "#fff" }}>
      <canvas ref={ref} width={833} height={682} style={{ width: 833, height: 682, display: "block" }} />
    </div>
  );
}
